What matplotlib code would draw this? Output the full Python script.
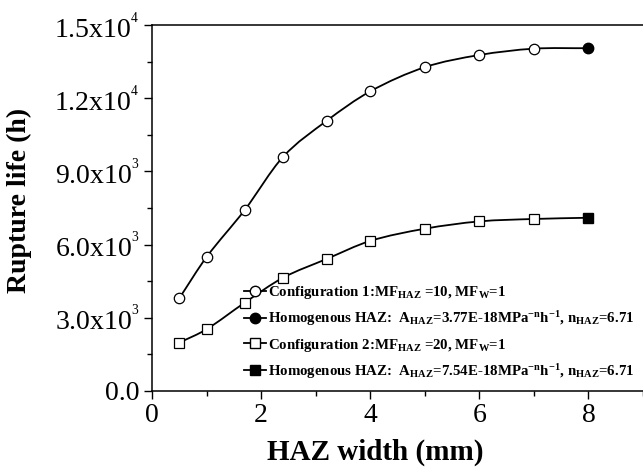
import matplotlib
matplotlib.use("Agg")
import matplotlib.pyplot as plt
from matplotlib.path import Path
from matplotlib.patches import PathPatch
from matplotlib.lines import Line2D
from matplotlib.ticker import FixedLocator, MultipleLocator

plt.rcParams['font.family'] = ['Liberation Serif', 'DejaVu Serif']
plt.rcParams['mathtext.fontset'] = 'custom'
plt.rcParams['mathtext.rm'] = 'Liberation Serif'
plt.rcParams['mathtext.it'] = 'Liberation Serif:italic'
plt.rcParams['mathtext.bf'] = 'Liberation Serif:bold'

# HAZ width (mm)
haz_width = [0.5, 1.0, 1.7, 2.4, 3.2, 4.0, 5.0, 6.0, 7.0]
# rupture life (h)
config1 = [3800, 5490, 7420, 9590, 11070, 12280, 13270, 13770, 14030]
config2 = [1980, 2530, 3620, 4640, 5410, 6150, 6650, 6950, 7050]
homog_x = 8.0
homog1 = 14050
homog2 = 7100

yticks = [0, 3000, 6000, 9000, 12000, 15000]
ytick_labels = ['0.0', r'3.0x10$^{{}^{3}}$', r'6.0x10$^{{}^{3}}$', r'9.0x10$^{{}^{3}}$',
                r'1.2x10$^{{}^{4}}$', r'1.5x10$^{{}^{4}}$']

labels = [
    r"Configuration 1:MF$_{\mathbf{HAZ}}$ =10, MF$_{\mathbf{W}}$=1",
    r"Homogenous HAZ:  A$_{\mathbf{HAZ}}$=3.77E-18MPa$^{\mathbf{-n}}$h$^{\mathbf{-1}}$, n$_{\mathbf{HAZ}}$=6.71",
    r"Configuration 2:MF$_{\mathbf{HAZ}}$ =20, MF$_{\mathbf{W}}$=1",
    r"Homogenous HAZ:  A$_{\mathbf{HAZ}}$=7.54E-18MPa$^{\mathbf{-n}}$h$^{\mathbf{-1}}$, n$_{\mathbf{HAZ}}$=6.71",
]


def smooth_path(xs, ys):
    """cubic hermite curve through the points (slopes from neighbours)"""
    n = len(xs)
    m = []
    for i in range(n):
        a = max(i - 1, 0)
        b = min(i + 1, n - 1)
        m.append((ys[b] - ys[a]) / (xs[b] - xs[a]))
    verts = [(xs[0], ys[0])]
    codes = [Path.MOVETO]
    for i in range(n - 1):
        h = xs[i + 1] - xs[i]
        verts += [(xs[i] + h / 3, ys[i] + m[i] * h / 3),
                  (xs[i + 1] - h / 3, ys[i + 1] - m[i + 1] * h / 3),
                  (xs[i + 1], ys[i + 1])]
        codes += [Path.CURVE4] * 3
    return Path(verts, codes)


fig = plt.figure(figsize=(6.43, 4.71), dpi=100)
ax = fig.add_axes([0.2364, 0.1699, 0.7636, 0.777])

lw = 1.3
for xs, ys in [(haz_width + [homog_x], config1 + [homog1]),
               (haz_width + [homog_x], config2 + [homog2])]:
    ax.add_patch(PathPatch(smooth_path(xs, ys), fill=False, lw=lw,
                           edgecolor='black', zorder=2))

ax.plot(haz_width, config1, 'o', ms=7.5, mfc='white', mec='black', mew=0.9, zorder=3)
ax.plot([homog_x], [homog1], 'o', ms=7.5, mfc='black', mec='black', zorder=3)
ax.plot(haz_width, config2, 's', ms=6.8, mfc='white', mec='black', mew=0.9, zorder=3)
ax.plot([homog_x], [homog2], 's', ms=6.8, mfc='black', mec='black', zorder=3)

handles = [
    Line2D([], [], color='black', lw=lw, marker='o', ms=7.5, mfc='white', mec='black'),
    Line2D([], [], color='black', lw=lw, marker='o', ms=7.5, mfc='black', mec='black'),
    Line2D([], [], color='black', lw=lw, marker='s', ms=6.8, mfc='white', mec='black'),
    Line2D([], [], color='black', lw=lw, marker='s', ms=6.8, mfc='black', mec='black'),
]
ax.legend(handles, labels, loc='lower left', bbox_to_anchor=(0.166, 0.0),
          frameon=False, handlelength=1.5, handletextpad=0.15, labelspacing=0.55,
          borderpad=0.2, prop={'weight': 'bold', 'size': 10.7})

ax.set_xlim(0, 9)
ax.set_ylim(0, 15000)
ax.xaxis.set_major_locator(FixedLocator([0, 2, 4, 6, 8]))
ax.xaxis.set_minor_locator(MultipleLocator(1))
ax.set_yticks(yticks)
ax.set_yticklabels(ytick_labels)
ax.yaxis.set_minor_locator(MultipleLocator(1500))
ax.tick_params(which='major', direction='out', length=6, width=1, labelsize=20, pad=3)
ax.tick_params(which='minor', direction='out', length=3.5, width=1)
ax.spines['right'].set_visible(False)
for s in ['left', 'bottom', 'top']:
    ax.spines[s].set_linewidth(1.1)

ax.set_xlabel('HAZ width (mm)', fontsize=21, fontweight='bold')
ax.set_ylabel('Rupture life (h)', fontsize=20, fontweight='bold')
ax.xaxis.set_label_coords(0.455, -0.13)
ax.yaxis.set_label_coords(-0.245, 0.52)

fig.savefig('out.png', dpi=100)
